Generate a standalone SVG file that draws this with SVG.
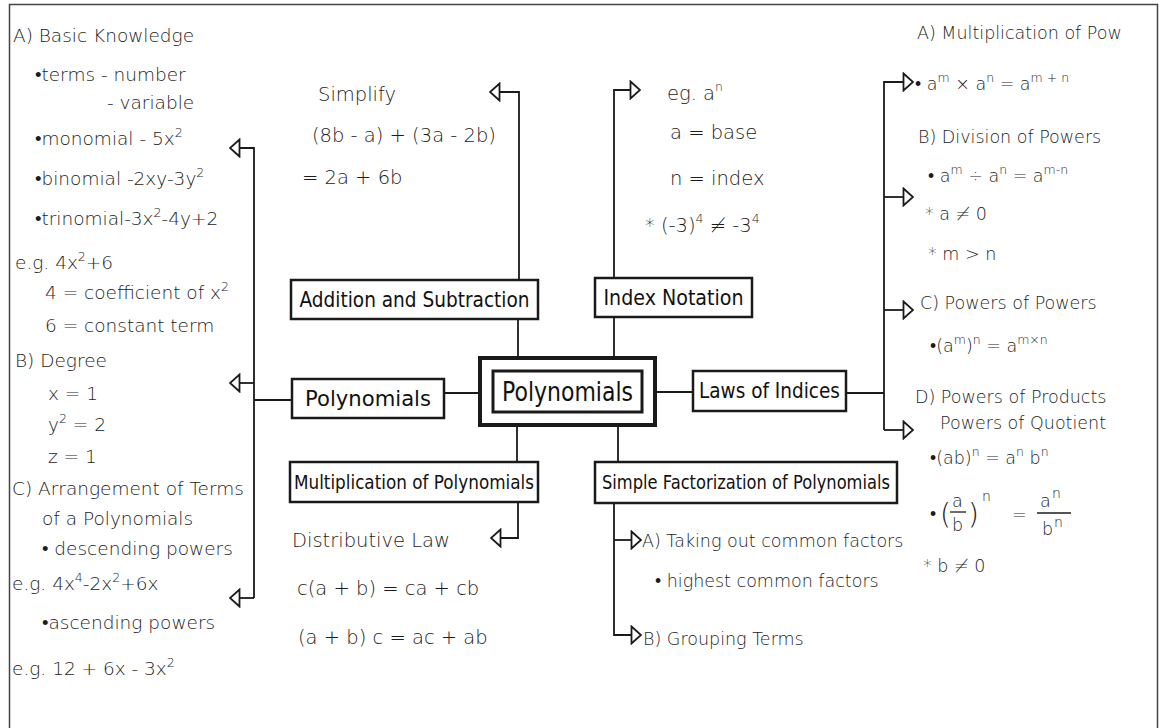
<svg xmlns="http://www.w3.org/2000/svg" width="1163" height="728" viewBox="0 0 1163 728">
<defs>
<style>
.box{fill:#fff;stroke:#1a1a1a;stroke-width:2.5}
.lbl{font-family:"DejaVu Sans",sans-serif;fill:#111;text-anchor:middle}
.note{font-family:"DejaVu Sans",sans-serif;fill:#1c1c1c;font-weight:300}
.l{font-size:18.5px}
.c{font-size:19.5px}
.r{font-size:17.5px}
.sup{font-size:12.5px}
.con{fill:none;stroke:#1a1a1a;stroke-width:1.8}
.arr{marker-end:url(#tri)}
</style>
<marker id="tri" viewBox="0 0 12 20" refX="11" refY="10" markerWidth="12" markerHeight="20" markerUnits="userSpaceOnUse" orient="auto">
<path d="M1.5,1.5 L11,10 L1.5,18.5 Z" fill="#fff" stroke="#1a1a1a" stroke-width="1.8"/>
</marker>
<clipPath id="cut"><rect x="0" y="0" width="1121" height="728"/></clipPath>
</defs>
<rect width="1163" height="728" fill="#fff"/>
<path d="M9.5,728 V4.5 H1157.5 V728" fill="none" stroke="#444" stroke-width="1.5"/>

<g id="connectors">
<path class="con" d="M444,393 H480"/>
<path class="con" d="M655,392 H693"/>
<path class="con" d="M518,358 V319"/>
<path class="con" d="M614,358 V317"/>
<path class="con" d="M517,425 V462"/>
<path class="con" d="M618,425 V462"/>
<path class="con" d="M292,400 H254"/>
<path class="con arr" d="M254,598 V148 H230"/>
<path class="con arr" d="M254,383 H230"/>
<path class="con arr" d="M254,598 H230"/>
<path class="con arr" d="M519,280 V92 H490"/>
<path class="con arr" d="M518,502 V538 H491"/>
<path class="con arr" d="M614,278 V90 H640"/>
<path class="con" d="M846,393 H884"/>
<path class="con arr" d="M884,430 V82 H913"/>
<path class="con arr" d="M884,197 H913"/>
<path class="con arr" d="M884,310 H913"/>
<path class="con arr" d="M884,430 H913"/>
<path class="con arr" d="M614,503 V635 H641"/>
<path class="con arr" d="M614,540 H641"/>
</g>

<g id="node-center">
<rect class="box" x="480" y="358" width="175" height="67" style="stroke-width:4"/>
<rect class="box" x="493" y="371" width="149" height="41" style="stroke-width:3"/>
<text class="lbl" x="567.5" y="401" font-size="27" textLength="131" lengthAdjust="spacingAndGlyphs">Polynomials</text>
</g>
<g id="node-addition">
<rect class="box" x="291" y="280" width="247" height="39"/>
<text class="lbl" x="414.5" y="307" font-size="21" textLength="230" lengthAdjust="spacingAndGlyphs">Addition and Subtraction</text>
</g>
<g id="node-index">
<rect class="box" x="595" y="278" width="157" height="39"/>
<text class="lbl" x="673.5" y="305" font-size="21" textLength="140" lengthAdjust="spacingAndGlyphs">Index Notation</text>
</g>
<g id="node-polynomials">
<rect class="box" x="292" y="379" width="152" height="39"/>
<text class="lbl" x="368" y="406" font-size="22" textLength="126" lengthAdjust="spacingAndGlyphs">Polynomials</text>
</g>
<g id="node-laws">
<rect class="box" x="693" y="371" width="153" height="40"/>
<text class="lbl" x="769.5" y="398" font-size="22" textLength="141" lengthAdjust="spacingAndGlyphs">Laws of Indices</text>
</g>
<g id="node-multiplication">
<rect class="box" x="290" y="462" width="248" height="40"/>
<text class="lbl" x="414" y="489" font-size="20" textLength="240" lengthAdjust="spacingAndGlyphs">Multiplication of Polynomials</text>
</g>
<g id="node-factorization">
<rect class="box" x="595" y="462" width="302" height="41"/>
<text class="lbl" x="746" y="489" font-size="20" textLength="288" lengthAdjust="spacingAndGlyphs">Simple Factorization of Polynomials</text>
</g>

<g id="notes-polynomials" class="note l">
<text x="13" y="42">A) Basic Knowledge</text>
<text x="35" y="81">•terms - number</text>
<text x="107" y="109">- variable</text>
<text x="35" y="145">•monomial - 5x<tspan class="sup" dy="-8">2</tspan></text>
<text x="35" y="185">•binomial -2xy-3y<tspan class="sup" dy="-8">2</tspan></text>
<text x="35" y="225">•trinomial-3x<tspan class="sup" dy="-8">2</tspan><tspan dy="8">-4y+2</tspan></text>
<text x="15" y="269">e.g. 4x<tspan class="sup" dy="-8">2</tspan><tspan dy="8">+6</tspan></text>
<text x="45" y="299">4 = coefficient of x<tspan class="sup" dy="-8">2</tspan></text>
<text x="45" y="332">6 = constant term</text>
<text x="15" y="367">B) Degree</text>
<text x="48" y="400">x = 1</text>
<text x="48" y="431">y<tspan class="sup" dy="-8">2</tspan><tspan dy="8"> = 2</tspan></text>
<text x="48" y="463">z = 1</text>
<text x="12" y="495">C) Arrangement of Terms</text>
<text x="42" y="525">of a Polynomials</text>
<text x="42" y="555">• descending powers</text>
<text x="12" y="590">e.g. 4x<tspan class="sup" dy="-8">4</tspan><tspan dy="8">-2x</tspan><tspan class="sup" dy="-8">2</tspan><tspan dy="8">+6x</tspan></text>
<text x="42" y="629">•ascending powers</text>
<text x="12" y="675">e.g. 12 + 6x - 3x<tspan class="sup" dy="-8">2</tspan></text>
</g>

<g id="notes-addition" class="note c">
<text x="318" y="101">Simplify</text>
<text x="312" y="142">(8b - a) + (3a - 2b)</text>
<text x="302" y="184">= 2a + 6b</text>
</g>

<g id="notes-multiplication" class="note c">
<text x="292" y="547">Distributive Law</text>
<text x="297" y="595">c(a + b) = ca + cb</text>
<text x="298" y="644">(a + b) c = ac + ab</text>
</g>

<g id="notes-index" class="note c">
<text x="667" y="100">eg.   a<tspan class="sup" dy="-9">n</tspan></text>
<text x="670" y="139">a = base</text>
<text x="670" y="185">n = index</text>
<text x="645" y="232">* (-3)<tspan class="sup" dy="-9">4</tspan><tspan dy="9"> ≠ -3</tspan><tspan class="sup" dy="-9">4</tspan></text>
</g>

<g id="notes-laws" class="note r" clip-path="url(#cut)">
<text x="917" y="39">A) Multiplication of Pow</text>
<text x="915" y="90">• a<tspan class="sup" dy="-8">m</tspan><tspan dy="8"> × a</tspan><tspan class="sup" dy="-8">n</tspan><tspan dy="8"> = a</tspan><tspan class="sup" dy="-8">m + n</tspan></text>
<text x="918" y="143">B) Division of Powers</text>
<text x="928" y="182">• a<tspan class="sup" dy="-8">m</tspan><tspan dy="8"> ÷ a</tspan><tspan class="sup" dy="-8">n</tspan><tspan dy="8"> = a</tspan><tspan class="sup" dy="-8">m-n</tspan></text>
<text x="925" y="220">* a ≠ 0</text>
<text x="928" y="260">* m &gt; n</text>
<text x="920" y="309">C) Powers of Powers</text>
<text x="930" y="352">•(a<tspan class="sup" dy="-8">m</tspan><tspan dy="8">)</tspan><tspan class="sup" dy="-8">n</tspan><tspan dy="8"> = a</tspan><tspan class="sup" dy="-8">m×n</tspan></text>
<text x="915" y="403">D) Powers of Products</text>
<text x="940" y="429">Powers of Quotient</text>
<text x="930" y="464">•(ab)<tspan class="sup" dy="-8">n</tspan><tspan dy="8"> = a</tspan><tspan class="sup" dy="-8">n</tspan><tspan dy="8"> b</tspan><tspan class="sup" dy="-8">n</tspan></text>
<text x="930" y="520">•</text>
<text x="940" y="524" font-size="28">(</text>
<text x="952" y="507">a</text>
<path d="M950,512 H966" stroke="#1c1c1c" stroke-width="1.3"/>
<text x="952" y="531">b</text>
<text x="968" y="524" font-size="28">)</text>
<text x="982" y="501" class="sup" style="font-size:14px">n</text>
<text x="1012" y="521">=</text>
<text x="1040" y="507">a</text>
<text x="1052" y="498" class="sup" style="font-size:14px">n</text>
<path d="M1037,513 H1071" stroke="#1c1c1c" stroke-width="1.3"/>
<text x="1042" y="535">b</text>
<text x="1054" y="527" class="sup" style="font-size:14px">n</text>
<text x="923" y="572">* b ≠ 0</text>
</g>

<g id="notes-factorization" class="note r">
<text x="642" y="547">A) Taking out common factors</text>
<text x="655" y="587">• highest common factors</text>
<text x="643" y="645">B) Grouping Terms</text>
</g>
</svg>
